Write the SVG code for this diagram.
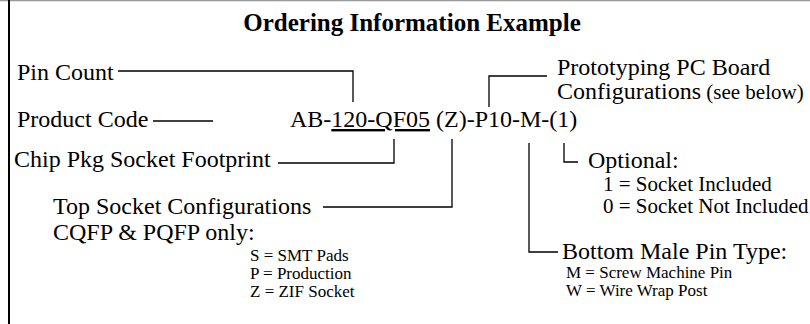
<svg xmlns="http://www.w3.org/2000/svg" width="810" height="324" viewBox="0 0 810 324">
<style>
text{font-family:"Liberation Serif","Times New Roman",serif;fill:#000}
.t{font-size:25px;font-weight:bold}
.l{font-size:24px}
.s{font-size:21px}
.x{font-size:17px}
.c{fill:none;stroke:#000;stroke-width:1.3}
</style>
<rect width="810" height="324" fill="#fff"/>
<line x1="0" y1="0.5" x2="810" y2="0.5" stroke="#999" stroke-width="1.5"/>
<line x1="9" y1="0" x2="9" y2="324" stroke="#000" stroke-width="2"/>
<g id="title"><text class="t" x="412" y="31" text-anchor="middle">Ordering Information Example</text></g>
<g id="code"><text class="l" x="290" y="127">AB-<tspan text-decoration="underline">120-QF05</tspan> (Z)-P10-M-(1)</text></g>
<g id="pin-count"><text class="l" x="17" y="80">Pin Count</text></g>
<g id="product-code"><text class="l" x="17" y="127">Product Code</text></g>
<g id="chip-pkg"><text class="l" x="14" y="167">Chip Pkg Socket Footprint</text></g>
<g id="top-socket"><text class="l" x="53" y="214">Top Socket Configurations</text><text class="l" x="53" y="240">CQFP &amp; PQFP only:</text>
<text class="x" x="250" y="261">S = SMT Pads</text><text class="x" x="250" y="279">P = Production</text><text class="x" x="250" y="297">Z = ZIF Socket</text></g>
<g id="proto"><text class="l" x="557" y="75">Prototyping PC Board</text><text class="l" x="557" y="99">Configurations<tspan class="s"> (see below)</tspan></text></g>
<g id="optional"><text class="l" x="588" y="168">Optional:</text><text class="s" x="603" y="191">1 = Socket Included</text><text class="s" x="603" y="213">0 = Socket Not Included</text></g>
<g id="bottom-pin"><text class="l" x="562" y="259">Bottom Male Pin Type:</text><text class="x" x="566" y="278">M = Screw Machine Pin</text><text class="x" x="566" y="296">W = Wire Wrap Post</text></g>
<g id="connectors">
<path class="c" d="M118,71H353V102"/>
<path class="c" d="M547,76H489V107"/>
<path class="c" d="M153,121H213"/>
<path class="c" d="M278,163H394V139"/>
<path class="c" d="M323,207H452V139"/>
<path class="c" d="M529,143V252H558"/>
<path class="c" d="M564,143V162H578"/>
</g>
</svg>
